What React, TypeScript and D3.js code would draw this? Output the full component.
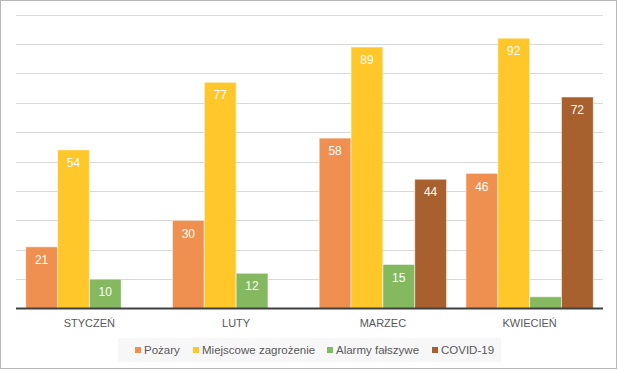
import { useEffect, useRef } from 'react';
import * as d3 from 'd3';

const months = ['STYCZEŃ', 'LUTY', 'MARZEC', 'KWIECIEŃ'];
const seriesNames = ['Pożary', 'Miejscowe zagrożenie', 'Alarmy fałszywe', 'COVID-19'];
const seriesColors = ['#EF8F50', '#FFC729', '#85B95F', '#A8602F'];
const pozary = [21, 30, 58, 46];
const miejscowe = [54, 77, 89, 92];
const alarmy = [10, 12, 15, 4];
const covid = [0, 0, 44, 72];
const yTicks = [0, 10, 20, 30, 40, 50, 60, 70, 80, 90, 100];

const W = 618;
const H = 370;
const FONT = "'Liberation Sans', Arial, sans-serif";

export default function App() {
  const svgRef = useRef<SVGSVGElement>(null);

  useEffect(() => {
    document.body.style.margin = '0';
    const svg = d3.select(svgRef.current);
    svg.selectAll('*').remove();

    const values = [pozary, miejscowe, alarmy, covid];
    const left = 16;
    const right = 603;
    const top = 14.7;
    const bottom = 308.5;

    // outer chart border
    svg.append('rect')
      .attr('x', 0.5).attr('y', 0.5)
      .attr('width', W - 2).attr('height', H - 2)
      .attr('fill', '#fff')
      .attr('stroke', '#b8b8b8')
      .attr('stroke-width', 1);

    const y = d3.scaleLinear().domain([0, 100]).range([bottom, top]);
    const x0 = d3.scaleBand().domain(months).range([left, right]).paddingInner(0.132).paddingOuter(0.066);
    const x1 = d3.scaleBand().domain(seriesNames).range([0, x0.bandwidth()]);

    // gridlines
    svg.append('g')
      .selectAll('line')
      .data(yTicks.slice(1))
      .enter().append('line')
      .attr('x1', left).attr('x2', right)
      .attr('y1', d => Math.round(y(d)) + 0.5)
      .attr('y2', d => Math.round(y(d)) + 0.5)
      .attr('stroke', '#d9d9d9')
      .attr('stroke-width', 1);

    // bars + data labels
    const groups = svg.append('g')
      .selectAll('g')
      .data(months)
      .enter().append('g')
      .attr('transform', d => `translate(${x0(d)},0)`);

    groups.each(function (m, mi) {
      const g = d3.select(this);
      seriesNames.forEach((s, si) => {
        const v = values[si][mi];
        if (!v) return;
        const bx = x1(s)!;
        const bw = x1.bandwidth();
        const h = bottom - y(v);
        g.append('rect')
          .attr('x', bx).attr('y', y(v))
          .attr('width', bw).attr('height', h)
          .attr('fill', seriesColors[si])
          .attr('stroke', 'rgba(255,255,255,0.55)')
          .attr('stroke-width', 1);
        g.append('text')
          .attr('x', bx + bw / 2)
          .attr('y', h > 20 ? y(v) + 13 : y(v) - 1.5)
          .attr('dy', h > 20 ? '0.35em' : 0)
          .attr('text-anchor', 'middle')
          .style('font-family', FONT)
          .style('font-size', '12px')
          .style('fill', '#fff')
          .text(v);
      });
    });

    // axis baseline
    svg.append('line')
      .attr('x1', left).attr('x2', right)
      .attr('y1', bottom).attr('y2', bottom)
      .attr('stroke', '#404040')
      .attr('stroke-width', 2);

    // category labels
    svg.append('g')
      .selectAll('text')
      .data(months)
      .enter().append('text')
      .attr('x', d => x0(d)! + x0.bandwidth() / 2)
      .attr('y', 323)
      .attr('dy', '0.35em')
      .attr('text-anchor', 'middle')
      .style('font-family', FONT)
      .style('font-size', '11px')
      .style('fill', '#595959')
      .text(d => d);

    // legend
    svg.append('rect')
      .attr('x', 118).attr('y', 338)
      .attr('width', 383).attr('height', 24)
      .attr('fill', '#f7f7f7');

    const legendX = [135, 193, 327, 432];
    const legend = svg.append('g')
      .selectAll('g')
      .data(seriesNames)
      .enter().append('g')
      .attr('transform', (d, i) => `translate(${legendX[i]},350)`);

    legend.append('rect')
      .attr('x', 0).attr('y', -3)
      .attr('width', 6).attr('height', 6)
      .attr('fill', (d, i) => seriesColors[i]);

    legend.append('text')
      .attr('x', 9)
      .attr('dy', '0.35em')
      .style('font-family', FONT)
      .style('font-size', '11.5px')
      .style('fill', '#595959')
      .text(d => d);
  }, []);

  return (
    <div>
      <svg ref={svgRef} width={W} height={H} style={{ display: 'block' }} />
    </div>
  );
}
